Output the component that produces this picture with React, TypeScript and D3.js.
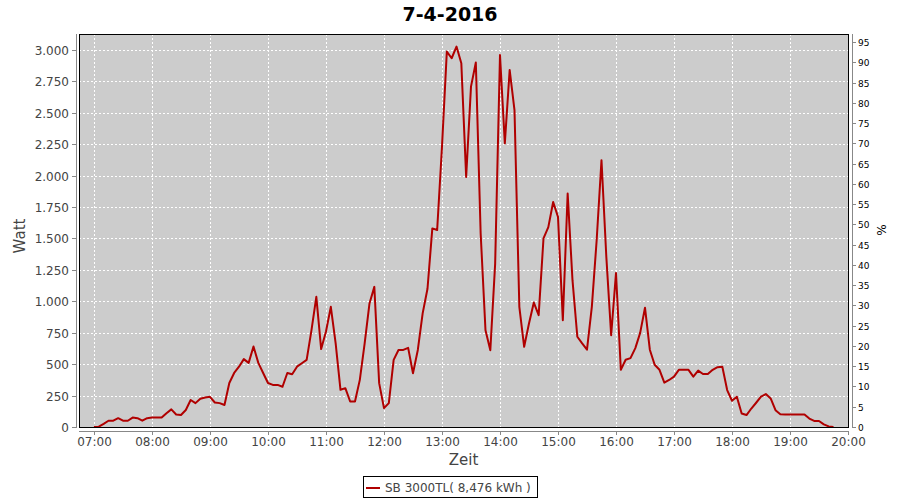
import React from 'react'
import * as d3 from 'd3'

// Messwerte im 5-Minuten-Raster (Watt)
const times = [
  '07:00', '07:05', '07:10', '07:15', '07:20', '07:25', '07:30', '07:35', '07:40', '07:45', '07:50', '07:55',
  '08:00', '08:05', '08:10', '08:15', '08:20', '08:25', '08:30', '08:35', '08:40', '08:45', '08:50', '08:55',
  '09:00', '09:05', '09:10', '09:15', '09:20', '09:25', '09:30', '09:35', '09:40', '09:45', '09:50', '09:55',
  '10:00', '10:05', '10:10', '10:15', '10:20', '10:25', '10:30', '10:35', '10:40', '10:45', '10:50', '10:55',
  '11:00', '11:05', '11:10', '11:15', '11:20', '11:25', '11:30', '11:35', '11:40', '11:45', '11:50', '11:55',
  '12:00', '12:05', '12:10', '12:15', '12:20', '12:25', '12:30', '12:35', '12:40', '12:45', '12:50', '12:55',
  '13:00', '13:05', '13:10', '13:15', '13:20', '13:25', '13:30', '13:35', '13:40', '13:45', '13:50', '13:55',
  '14:00', '14:05', '14:10', '14:15', '14:20', '14:25', '14:30', '14:35', '14:40', '14:45', '14:50', '14:55',
  '15:00', '15:05', '15:10', '15:15', '15:20', '15:25', '15:30', '15:35', '15:40', '15:45', '15:50', '15:55',
  '16:00', '16:05', '16:10', '16:15', '16:20', '16:25', '16:30', '16:35', '16:40', '16:45', '16:50', '16:55',
  '17:00', '17:05', '17:10', '17:15', '17:20', '17:25', '17:30', '17:35', '17:40', '17:45', '17:50', '17:55',
  '18:00', '18:05', '18:10', '18:15', '18:20', '18:25', '18:30', '18:35', '18:40', '18:45', '18:50', '18:55',
  '19:00', '19:05', '19:10', '19:15', '19:20', '19:25', '19:30', '19:35', '19:40', '19:45',
]

const watts = [
  0, 3, 25, 50, 50, 70, 50, 50, 75, 70, 50, 70,
  75, 75, 75, 110, 140, 100, 95, 135, 215, 190, 225, 235,
  240, 195, 190, 175, 350, 430, 480, 540, 510, 640, 510, 430,
  350, 335, 335, 320, 430, 420, 480, 507, 534, 771, 1036, 620,
  760, 956, 666, 296, 309, 203, 203, 375, 666, 983, 1115, 349,
  150, 190, 534, 613, 613, 630, 428, 613, 904, 1100, 1580, 1567,
  2230, 2987, 2934, 3027, 2894, 1990, 2708, 2900, 1540, 770, 611, 1300,
  2960, 2257, 2841, 2522, 956, 638, 823, 990, 890, 1500, 1590, 1790,
  1672, 850, 1858, 1168, 718, 665, 615, 956, 1486, 2123, 1354, 730,
  1225, 455, 535, 548, 628, 749, 949, 615, 495, 455, 353, 374,
  401, 455, 455, 455, 401, 449, 422, 422, 455, 476, 480, 294,
  209, 241, 107, 95, 147, 193, 241, 262, 227, 134, 102, 100,
  100, 100, 100, 100, 67, 48, 48, 21, 5, 0,
]

const hourTicks = ['07:00', '08:00', '09:00', '10:00', '11:00', '12:00', '13:00', '14:00', '15:00', '16:00', '17:00', '18:00', '19:00', '20:00']
const wattTicks = [0, 250, 500, 750, 1000, 1250, 1500, 1750, 2000, 2250, 2500, 2750, 3000]
const percentTicks = [0, 5, 10, 15, 20, 25, 30, 35, 40, 45, 50, 55, 60, 65, 70, 75, 80, 85, 90, 95]

const title = '7-4-2016'
const seriesName = 'SB 3000TL( 8,476 kWh )'

const width = 900
const height = 500
const plot = { left: 79, right: 848, top: 34, bottom: 427 }
const font = '"DejaVu Sans", sans-serif'

const toMin = (s: string) => {
  const [h, m] = s.split(':').map(Number)
  return h * 60 + m
}

export default function App() {
  const x = d3.scaleLinear().domain([6 * 60 + 44.5, 20 * 60]).range([plot.left, plot.right])
  const y = d3.scaleLinear().domain([0, 3127]).range([plot.bottom, plot.top])
  const yPct = d3.scaleLinear().domain([0, 97]).range([plot.bottom, plot.top])

  const points = times.map((t, i) => [toMin(t), watts[i]] as [number, number])
  const line = d3.line<[number, number]>()
    .x(d => x(d[0]))
    .y(d => y(d[1]))
    .curve(d3.curveLinear)

  const fmtWatt = (v: number) => d3.format(',')(v).replace(',', '.')
  const axisColor = '#888888'
  const labelColor = '#444444'
  const lineColor = '#b00000'

  return (
    <div style={{ position: 'absolute', left: 0, top: 0 }}>
      <svg width={width} height={height} style={{ display: 'block', background: '#ffffff' }}>
        <text x={450} y={21} textAnchor="middle" fontFamily={font} fontWeight="bold" fontSize={19} fill="#000">
          {title}
        </text>

        {/* Plotfläche */}
        <rect x={plot.left} y={plot.top} width={plot.right - plot.left} height={plot.bottom - plot.top} fill="#cccccc" />

        {/* Gitterlinien */}
        {wattTicks.map(v => (
          <line key={'gy' + v} x1={plot.left} x2={plot.right} y1={Math.round(y(v)) + 0.5} y2={Math.round(y(v)) + 0.5}
            stroke="#ffffff" strokeWidth={1} strokeDasharray="2,2" />
        ))}
        {hourTicks.map(t => (
          <line key={'gx' + t} x1={Math.round(x(toMin(t))) + 0.5} x2={Math.round(x(toMin(t))) + 0.5} y1={plot.top} y2={plot.bottom}
            stroke="#ffffff" strokeWidth={1} strokeDasharray="2,2" />
        ))}

        <clipPath id="plotClip">
          <rect x={plot.left} y={plot.top} width={plot.right - plot.left} height={plot.bottom - plot.top} />
        </clipPath>
        <path d={line(points) || ''} fill="none" stroke={lineColor} strokeWidth={2} strokeLinejoin="round" clipPath="url(#plotClip)" />

        <rect x={plot.left + 0.5} y={plot.top + 0.5} width={plot.right - plot.left} height={plot.bottom - plot.top}
          fill="none" stroke="#000" strokeWidth={1} />

        {/* linke Achse */}
        <line x1={76.5} x2={76.5} y1={plot.top} y2={plot.bottom + 1} stroke={axisColor} />
        {wattTicks.map(v => (
          <g key={'ly' + v} transform={`translate(0,${Math.round(y(v)) + 0.5})`}>
            <line x1={72} x2={76} stroke={axisColor} />
            <text x={69} dy="0.35em" textAnchor="end" fontFamily={font} fontSize={12} fill={labelColor}>
              {fmtWatt(v)}
            </text>
          </g>
        ))}
        <text transform="translate(25,236) rotate(-90)" textAnchor="middle" fontFamily={font} fontSize={15} fill={labelColor}>
          Watt
        </text>

        {/* untere Achse */}
        <line x1={plot.left} x2={plot.right + 1} y1={431.5} y2={431.5} stroke={axisColor} />
        {hourTicks.map(t => (
          <g key={'bx' + t} transform={`translate(${Math.round(x(toMin(t))) + 0.5},0)`}>
            <line y1={431} y2={435} stroke={axisColor} />
            <text y={446} textAnchor="middle" fontFamily={font} fontSize={12} fill={labelColor}>
              {t}
            </text>
          </g>
        ))}
        <text x={(plot.left + plot.right) / 2} y={465} textAnchor="middle" fontFamily={font} fontSize={15} fill={labelColor}>
          Zeit
        </text>

        {/* rechte Achse */}
        <line x1={852.5} x2={852.5} y1={plot.top} y2={plot.bottom + 1} stroke={axisColor} />
        {percentTicks.map(v => (
          <g key={'ry' + v} transform={`translate(0,${Math.round(yPct(v)) + 0.5})`}>
            <line x1={852} x2={856} stroke={axisColor} />
            <text x={858} dy="0.35em" fontFamily={font} fontSize={9} fill="#000">
              {v}
            </text>
          </g>
        ))}
        <text transform="translate(886,230) rotate(-90)" textAnchor="middle" fontFamily={font} fontSize={12} fill="#000">
          %
        </text>

        {/* Legende */}
        <rect x={363.5} y={476.5} width={174} height={21} fill="#ffffff" stroke="#000" />
        <line x1={366} x2={380} y1={488} y2={488} stroke={lineColor} strokeWidth={2} />
        <text x={385} y={492} fontFamily={font} fontSize={12} fill={labelColor}>
          {seriesName}
        </text>
      </svg>
    </div>
  )
}
